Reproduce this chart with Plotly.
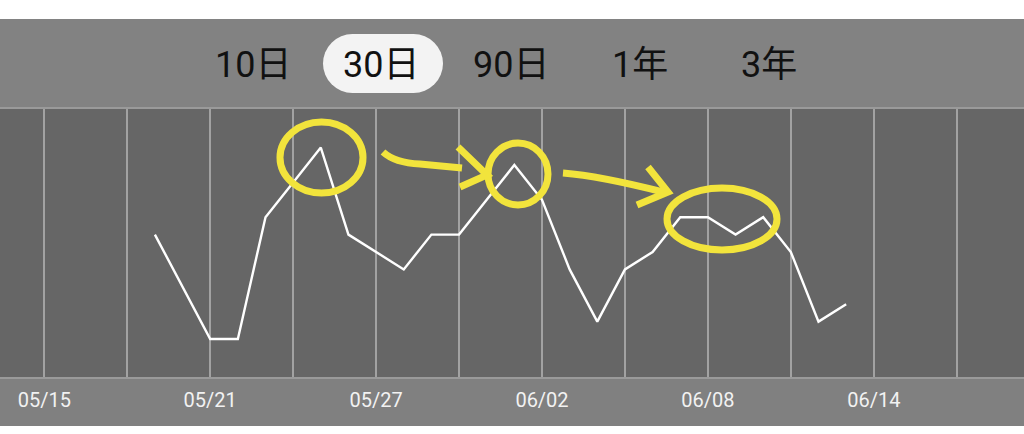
import datetime as dt
import plotly.graph_objects as go

# ---- data ----
dates = ["2021-05-19", "2021-05-20", "2021-05-21", "2021-05-22", "2021-05-23",
         "2021-05-24", "2021-05-25", "2021-05-26", "2021-05-27", "2021-05-28",
         "2021-05-29", "2021-05-30", "2021-05-31", "2021-06-01", "2021-06-02",
         "2021-06-03", "2021-06-04", "2021-06-05", "2021-06-06", "2021-06-07",
         "2021-06-08", "2021-06-09", "2021-06-10", "2021-06-11", "2021-06-12",
         "2021-06-13"]
values = [6, 3, 0, 0, 7, 9, 11, 6, 5, 4, 6, 6, 8, 10, 8, 4, 1, 4, 5, 7, 7, 6, 7, 5, 1, 2]
range_buttons = ["10日", "30日", "90日", "1年", "3年"]
selected_button = "30日"
grid_dates = ["2021-05-15", "2021-05-18", "2021-05-21", "2021-05-24", "2021-05-27",
              "2021-05-30", "2021-06-02", "2021-06-05", "2021-06-08", "2021-06-11",
              "2021-06-14", "2021-06-17"]
tick_labels = ["05/15", "", "05/21", "", "05/27", "", "06/02", "", "06/08", "", "06/14", ""]

# ---- layout geometry ----
W, H = 1024, 434
TOP, BOT = 109, 377          # plot area in px
PX_PER_DAY = 27.65
X0_PX = 44.3                 # position of 05/15
base = dt.datetime(2021, 5, 15)
x_start = base - dt.timedelta(days=X0_PX / PX_PER_DAY)
x_end = base + dt.timedelta(days=(W - X0_PX) / PX_PER_DAY)


def px(x):
    return x / W


def py(y):
    return (BOT - y) / (BOT - TOP)


fig = go.Figure()
fig.add_trace(go.Scatter(x=dates, y=values, mode="lines",
                         line=dict(color="#ffffff", width=2.4),
                         hoverinfo="skip", showlegend=False))

shapes = []
# top band
shapes.append(dict(type="rect", xref="paper", yref="paper", x0=0, x1=1,
                   y0=py(TOP), y1=py(19), fillcolor="#828282", line_width=0, layer="below"))
# bottom band
shapes.append(dict(type="rect", xref="paper", yref="paper", x0=0, x1=1,
                   y0=py(426), y1=py(BOT), fillcolor="#808080", line_width=0, layer="below"))

# selected pill
centers = [252.5, 381, 511, 640, 768.5]
sel = range_buttons.index(selected_button)
pc = centers[sel] + 2
pl, pr, pt, pb = pc - 60, pc + 60, 34, 93
r = (pb - pt) / 2
shapes.append(dict(type="rect", xref="paper", yref="paper", x0=px(pl + r), x1=px(pr - r),
                   y0=py(pb), y1=py(pt), fillcolor="#f3f3f3", line_width=0))
for cx in (pl + r, pr - r):
    shapes.append(dict(type="circle", xref="paper", yref="paper", x0=px(cx - r), x1=px(cx + r),
                       y0=py(pb), y1=py(pt), fillcolor="#f3f3f3", line_width=0))

# yellow hand-drawn marks
YEL = "#f2e43c"
for (x0, x1, y0, y1) in [(280, 363, 122, 193), (488, 548, 143, 205), (667, 777, 188, 250)]:
    shapes.append(dict(type="circle", xref="paper", yref="paper", x0=px(x0), x1=px(x1),
                       y0=py(y1), y1=py(y0), line=dict(color=YEL, width=7)))


def path(pts_cmds):
    out = []
    for c, pts in pts_cmds:
        out.append(c + " ".join(f"{px(a):.5f},{py(b):.5f}" for a, b in pts))
    return " ".join(out)


arrow_paths = [
    path([("M", [(383, 152)]), ("Q", [(395, 163), (420, 164)]), ("L", [(462, 168)])]),
    path([("M", [(458, 147)]), ("L", [(487, 175)]), ("L", [(460, 187)])]),
    path([("M", [(563, 173)]), ("Q", [(600, 176), (663, 192)])]),
    path([("M", [(648, 167)]), ("L", [(668, 192)]), ("L", [(637, 205)])]),
]
for p in arrow_paths:
    shapes.append(dict(type="path", xref="paper", yref="paper", path=p,
                       line=dict(color=YEL, width=7)))

annotations = []
for lab, cx in zip(range_buttons, centers):
    annotations.append(dict(text=lab, xref="paper", yref="paper", x=px(cx), y=py(65),
                            xanchor="center", yanchor="middle", showarrow=False,
                            font=dict(family="Roboto, Noto Sans CJK SC", size=36, color="#111111")))

fig.update_layout(
    width=W, height=H,
    margin=dict(l=0, r=0, t=TOP, b=H - BOT, pad=0),
    paper_bgcolor="#ffffff",
    plot_bgcolor="#666666",
    shapes=shapes,
    annotations=annotations,
    xaxis=dict(range=[x_start, x_end], type="date",
               tickvals=grid_dates, ticktext=tick_labels,
               showgrid=True, gridcolor="#a2a2a2", gridwidth=1.6,
               ticks="outside", ticklen=4, tickcolor="rgba(0,0,0,0)",
               tickfont=dict(family="Roboto", size=20, color="#f2f2f2"),
               showline=True, mirror=True, linecolor="#9a9a9a", linewidth=1.5,
               zeroline=False, fixedrange=True),
    yaxis=dict(range=[(339 - BOT) / 17.4, (339 - TOP) / 17.4],
               showgrid=False, showticklabels=False, zeroline=False,
               showline=False, fixedrange=True),
    showlegend=False,
)

fig.write_html("out.html", config={"displayModeBar": False},
               post_script="document.body.style.margin='0';document.body.style.overflow='hidden';")
